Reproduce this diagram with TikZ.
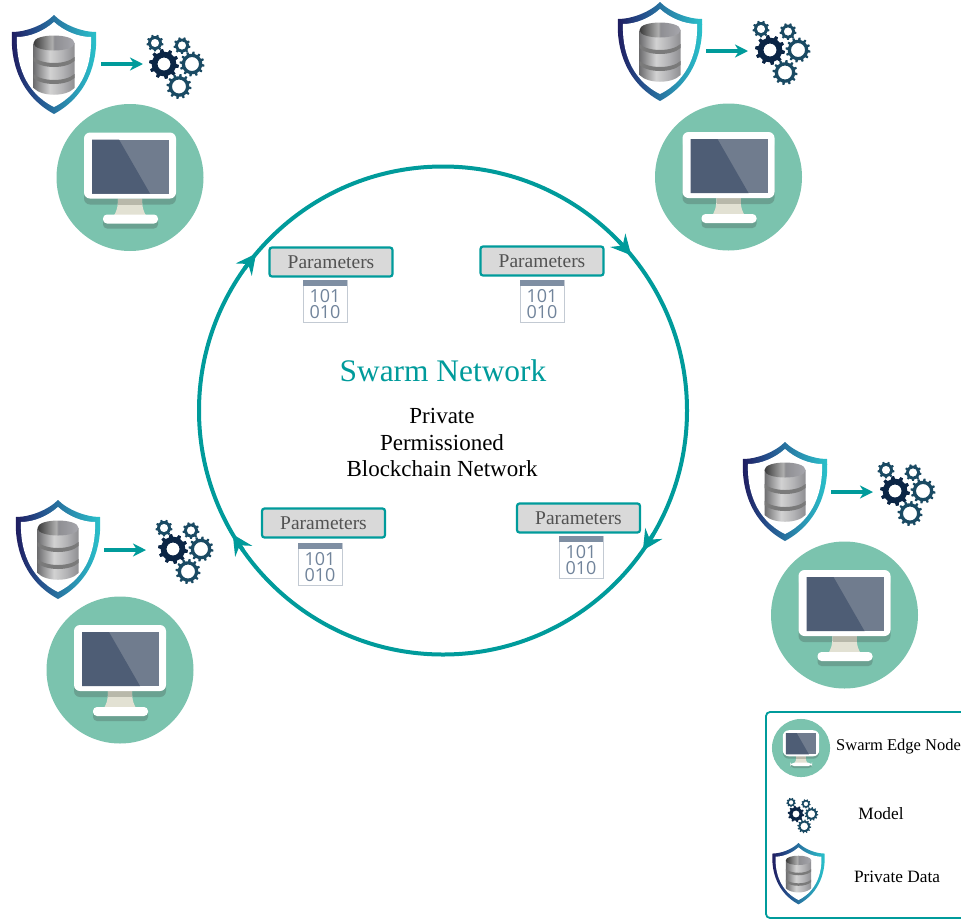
\documentclass[tikz,border=0pt]{standalone}
\usepackage{fontspec}
\setmainfont{Liberation Serif}
\newfontfamily\binfont{Open Sans}
\usetikzlibrary{arrows.meta}
\definecolor{teal1}{HTML}{009B9B}
\definecolor{disc}{HTML}{7BC3AE}
\definecolor{discdark}{HTML}{6AA191}
\definecolor{scrdark}{HTML}{4E5D75}
\definecolor{scrlight}{HTML}{707C8E}
\definecolor{cogdark}{HTML}{0B2545}
\definecolor{coglight}{HTML}{1A4A63}
\definecolor{binblue}{HTML}{71849B}
\definecolor{binbar}{HTML}{7F8FA3}
\definecolor{binedge}{HTML}{C3CAD3}
\definecolor{standc}{HTML}{E2E1D3}
\definecolor{standd}{HTML}{B8B8AA}
\definecolor{sa}{HTML}{1F1A5E}
\definecolor{sb}{HTML}{25508C}
\definecolor{sc}{HTML}{2A8FB0}
\definecolor{sd}{HTML}{29C4CC}
\definecolor{ma}{HTML}{6E6E70}
\definecolor{mb}{HTML}{D2D2D2}
\definecolor{mc}{HTML}{B4B4B6}
\definecolor{md}{HTML}{8E8E92}
\definecolor{ta}{HTML}{3A3A3A}
\definecolor{tb}{HTML}{B0B0B0}
\definecolor{tc}{HTML}{A6A6AC}
\pgfdeclarehorizontalshading{shieldshade}{100bp}{color(0bp)=(sa); color(25bp)=(sa); color(40bp)=(sb); color(58bp)=(sc); color(75bp)=(sd); color(100bp)=(sd)}
\pgfdeclarehorizontalshading{metal}{100bp}{color(0bp)=(ma); color(25bp)=(ma); color(45bp)=(mb); color(60bp)=(mc); color(75bp)=(md); color(100bp)=(md)}
\pgfdeclarehorizontalshading{metaltop}{100bp}{color(0bp)=(ta); color(25bp)=(ta); color(48bp)=(tb); color(50bp)=(md); color(75bp)=(tc); color(100bp)=(tc)}
\newcommand\cogshape[6]{%
  \begin{scope}[shift={(#1,#2)}]
  \pgfmathsetmacro\cogs{360/#5}
  \fill[#6,even odd rule] (0:{0.82*#3})
    \foreach \cogi in {1,...,#5}{
      -- ({(\cogi-1)*\cogs+0.1*\cogs}:{#3}) -- ({(\cogi-1)*\cogs+0.4*\cogs}:{#3})
      -- ({(\cogi-1)*\cogs+0.5*\cogs}:{0.82*#3}) -- ({\cogi*\cogs}:{0.82*#3})
    } -- cycle
    (0:#4) arc[start angle=0,end angle=360,radius=#4];
  \end{scope}}
\tikzset{
  flow/.style={draw=teal1,line width=3.3pt,-{Stealth[length=13pt,width=13pt,inset=4pt]}},
  ringline/.style={draw=teal1,line width=4pt},
  ringtip/.style={draw=teal1,line width=4pt,-{Stealth[length=20pt,width=20pt,inset=7pt]}},
  parambox/.style={draw=teal1,line width=2.2pt,fill=black!15,rounded corners=2.5pt,minimum width=123pt,minimum height=29pt,inner sep=0pt,text=black!68,font=\fontsize{19.5}{21}\selectfont},
  bintext/.style={text=binblue,inner sep=0pt,align=center,font=\binfont\fontsize{18}{16}\selectfont},
  lab/.style={inner sep=0pt,font=\fontsize{23}{25}\selectfont},
  leglab/.style={inner sep=0pt,font=\fontsize{17.3}{19}\selectfont},
  monitor/.pic={
    \fill[disc] (0,0) circle[radius=73.5];
    \fill[discdark,rounded corners=6] (-46,-37) rectangle (46,27);
    \fill[discdark,rounded corners=4] (-27,40) rectangle (28,51);
    \fill[standc] (-12,21) -- (12,21) .. controls (12,30) and (14,36) .. (17,39) -- (-17,39) .. controls (-14,36) and (-12,30) .. (-12,21) -- cycle;
    \fill[standd] (-12,21) rectangle (12,27);
    \fill[white,rounded corners=6] (-46,-45) rectangle (46,21);
    \fill[white,rounded corners=4] (-27,37) rectangle (28,46);
    \fill[scrlight] (-38,-38) rectangle (39,16);
    \fill[scrdark] (-38,-38) -- (-11,-38) -- (20,16) -- (-38,16) -- cycle;
  },
  shieldicon/.pic={
    \shade[shading=shieldshade] (0,-50) .. controls (-10,-40) and (-28,-33) .. (-42,-33) .. controls (-44,-5) and (-35,30) .. (0,49) .. controls (35,30) and (44,-5) .. (42,-33) .. controls (28,-33) and (10,-40) .. (0,-50) -- cycle;
    \fill[white] (0,-43) .. controls (-10,-34) and (-24,-28) .. (-37,-28) .. controls (-38,-3) and (-30,27) .. (0,42) .. controls (30,27) and (38,-3) .. (37,-28) .. controls (24,-28) and (10,-34) .. (0,-43) -- cycle;
    \shade[shading=metal] (-20.5,-22) -- (20.5,-22) -- (20.5,23) .. controls (12,32) and (-12,32) .. (-20.5,23) -- cycle;
    \shade[shading=metaltop] (-20.5,-22) .. controls (-20.5,-32) and (20.5,-32) .. (20.5,-22) .. controls (20.5,-12) and (-20.5,-12) .. (-20.5,-22) -- cycle;
    \fill[black!52] (-20.5,-8) .. controls (-12,0) and (12,0) .. (20.5,-8) -- (20.5,-4) .. controls (12,4) and (-12,4) .. (-20.5,-4) -- cycle;
    \fill[black!52] (-20.5,9) .. controls (-12,17) and (12,17) .. (20.5,9) -- (20.5,13) .. controls (12,21) and (-12,21) .. (-20.5,13) -- cycle;
  },
  gears/.pic={
    \cogshape{0}{0}{15}{6.5}{10}{cogdark}
    \cogshape{-9}{-21}{8.5}{4.2}{9}{coglight}
    \cogshape{18}{-18.5}{8.5}{4.2}{9}{coglight}
    \cogshape{28}{0}{12.5}{7}{12}{coglight}
    \cogshape{15}{22.5}{12.5}{7}{12}{coglight}
  },
  binicon/.pic={
    \draw[draw=binedge,line width=0.9pt,fill=white] (-22,-21) rectangle (22,21);
    \fill[binbar] (-22,-21) rectangle (22,-15);
  },
}
\begin{document}
\begin{tikzpicture}[x=1pt,y=-1pt]
\useasboundingbox (0,0) rectangle (961,919);
\clip (0,0) rectangle (961,919);
% ring
\coordinate (c) at (443,410.5);
\draw[ringline] (c) circle[radius=244];
\draw[ringtip] ([shift={(-44:244)}]c) -- ([shift={(-39.5:244)}]c);
\draw[ringtip] ([shift={(30.5:244)}]c) -- ([shift={(35:244)}]c);
\draw[ringtip] ([shift={(145:244)}]c) -- ([shift={(149.5:244)}]c);
\draw[ringtip] ([shift={(215.5:244)}]c) -- ([shift={(220:244)}]c);
% monitors
\pic (m1) at (130,177.5) {monitor};
\pic (m2) at (728.5,177) {monitor};
\pic (m3) at (844.5,615) {monitor};
\pic (m4) at (120,670) {monitor};
% shields and gears
\pic (s1) at (54,65) {shieldicon};
\pic (g1) at (164,64) {gears};
\coordinate (a1) at (101,64); \coordinate (b1) at (143,64);
\draw[flow] (a1) -- (b1);
\pic (s2) at (660,52) {shieldicon};
\pic (g2) at (770,50) {gears};
\coordinate (a2) at (706,51); \coordinate (b2) at (748,51);
\draw[flow] (a2) -- (b2);
\pic (s3) at (785,492) {shieldicon};
\pic (g3) at (895,491) {gears};
\coordinate (a3) at (831,492); \coordinate (b3) at (873,492);
\draw[flow] (a3) -- (b3);
\pic (s4) at (58,550) {shieldicon};
\pic (g4) at (173,549) {gears};
\coordinate (a4) at (104,550); \coordinate (b4) at (146,550);
\draw[flow] (a4) -- (b4);
% parameter boxes
\node[parambox] (p1) at (331,262) {Parameters};
\node[parambox] (p2) at (542,261) {Parameters};
\node[parambox] (p3) at (323.5,523) {Parameters};
\node[parambox] (p4) at (578.5,518) {Parameters};
\pic (i1) at (325,301) {binicon};
\node[bintext] (i1a) at (325,304) {101\\010};
\pic (i2) at (542,301) {binicon};
\node[bintext] (i2a) at (542,304) {101\\010};
\pic (i3) at (320,564) {binicon};
\node[bintext] (i3a) at (320,567) {101\\010};
\pic (i4) at (581,557) {binicon};
\node[bintext] (i4a) at (581,560) {101\\010};
% centre text
\node[inner sep=0pt,text=teal1,font=\fontsize{31.4}{33}\selectfont] (t0) at (443,371) {Swarm Network};
\node[lab] (t1) at (442,416) {Private};
\node[lab] (t2) at (442,443) {Permissioned};
\node[lab] (t3) at (442,469) {Blockchain Network};
% legend
\draw[draw=teal1,line width=1.8pt,rounded corners=4pt] (766,712) rectangle (990,918);
\pic[scale=0.395] (lm) at (801,748) {monitor};
\pic[scale=0.55] (lg) at (796,814) {gears};
\pic[scale=0.62] (ls) at (798.5,874) {shieldicon};
\node[leglab,anchor=west,font=\fontsize{16.5}{19}\selectfont] (l1) at (836,747) {Swarm Edge Node};
\node[leglab] (l2) at (881,814) {Model};
\node[leglab] (l3) at (897,877) {Private Data};
\end{tikzpicture}
\end{document}
